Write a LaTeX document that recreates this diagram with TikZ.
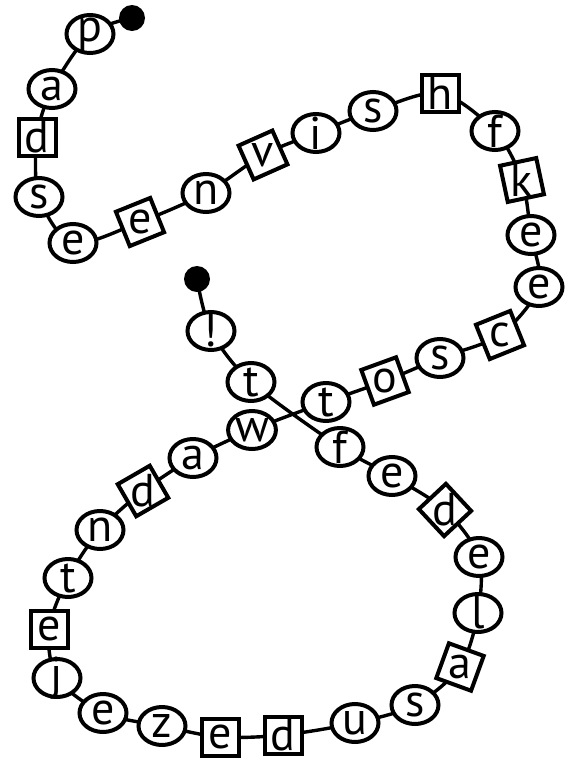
\documentclass[tikz,border=0pt]{standalone}
\usepackage{fontspec}
\setmainfont{PT Sans}
\usepackage{graphicx}
\usetikzlibrary{shapes.geometric,backgrounds}
\newcommand{\glyph}[2][0]{\setbox0\hbox{#2}\rotatebox[origin=c]{#1}{\raisebox{\dimexpr(\dp0-\ht0)/2\relax}[0pt][0pt]{\copy0}}}
\tikzset{
  ring/.style={ellipse, draw, fill=white, line width=4pt, minimum width=47pt, minimum height=38pt, inner sep=0pt, font=\fontsize{46}{46}\selectfont},
  tile/.style={rectangle, draw, fill=white, line width=4pt, minimum size=37pt, inner sep=0pt, rotate=#1, font=\fontsize{46}{46}\selectfont},
  tile/.default=0,
  knob/.style={circle, fill=black, minimum size=26pt, inner sep=0pt},
  wire/.style={line width=3.4pt}
}
\begin{document}
\begin{tikzpicture}[x=1pt,y=-1pt]
\useasboundingbox (0,0) rectangle (569,761);
\node[knob] (start) at (132,18) {};
\node[ring] (b1) at (90,34) {\glyph{p}};
\node[ring] (b2) at (52,89) {\glyph{a}};
\node[tile] (b3) at (37,137) {\glyph{d}};
\node[ring] (b4) at (39,197) {\glyph{s}};
\node[ring] (b5) at (73,243) {\glyph{e}};
\node[tile=22] (b6) at (140,222) {\glyph[-22]{e}};
\node[ring] (b7) at (206,193) {\glyph{n}};
\node[tile=24] (b8) at (263,155) {\glyph[-24]{v}};
\node[ring] (b9) at (316,133) {\glyph{i}};
\node[ring] (b10) at (373,111) {\glyph{s}};
\node[tile] (b11) at (440,93) {\glyph{h}};
\node[ring] (b12) at (495,131) {\glyph{f}};
\node[tile=12] (b13) at (522,180) {\glyph[-12]{k}};
\node[ring] (b14) at (531,235) {\glyph{e}};
\node[ring] (b15) at (539,287) {\glyph{e}};
\node[tile=22] (b16) at (500,335) {\glyph[-22]{c}};
\node[ring] (b17) at (440,358) {\glyph{s}};
\node[tile=20] (b18) at (385,381) {\glyph[-20]{o}};
\node[ring] (b19) at (326,402) {\glyph{t}};
\node[ring] (b20) at (252,430) {\glyph{w}};
\node[ring] (b21) at (193,458) {\glyph{a}};
\node[tile=30] (b22) at (143,491) {\glyph[-30]{d}};
\node[ring] (b23) at (100,530) {\glyph{n}};
\node[ring] (b24) at (68,578) {\glyph{t}};
\node[tile] (b25) at (49,629) {\glyph{e}};
\node[ring] (b26) at (57,678) {\glyph{j}};
\node[ring] (b27) at (103,713) {\glyph{e}};
\node[ring] (b28) at (162,726) {\glyph{z}};
\node[tile] (b29) at (220,737) {\glyph{e}};
\node[tile] (b30) at (283,735) {\glyph{d}};
\node[ring] (b31) at (355,723) {\glyph{u}};
\node[ring] (b32) at (415,705) {\glyph{s}};
\node[tile=-20] (b33) at (460,667) {\glyph[20]{a}};
\node[ring] (b34) at (478,613) {\glyph{l}};
\node[ring] (b35) at (479,557) {\glyph{e}};
\node[tile=43] (b36) at (445,510) {\glyph[-43]{d}};
\node[ring] (b37) at (392,476) {\glyph{e}};
\node[ring] (b38) at (340,447) {\glyph{f}};
\node[ring] (b39) at (251,382) {\glyph{t}};
\node[ring] (b40) at (211,331) {\glyph{!}};
\node[knob] (stop) at (197,279) {};
\begin{scope}[on background layer]
\draw[wire] plot[smooth] coordinates {(start.center) (b1.center) (b2.center) (b3.center) (b4.center) (b5.center) (b6.center) (b7.center) (b8.center) (b9.center) (b10.center) (b11.center) (b12.center) (b13.center) (b14.center) (b15.center) (b16.center) (b17.center) (b18.center) (b19.center) (b20.center) (b21.center) (b22.center) (b23.center) (b24.center) (b25.center) (b26.center) (b27.center) (b28.center) (b29.center) (b30.center) (b31.center) (b32.center) (b33.center) (b34.center) (b35.center) (b36.center) (b37.center) (b38.center) (b39.center) (b40.center) (stop.center)};
\end{scope}
\end{tikzpicture}
\end{document}
